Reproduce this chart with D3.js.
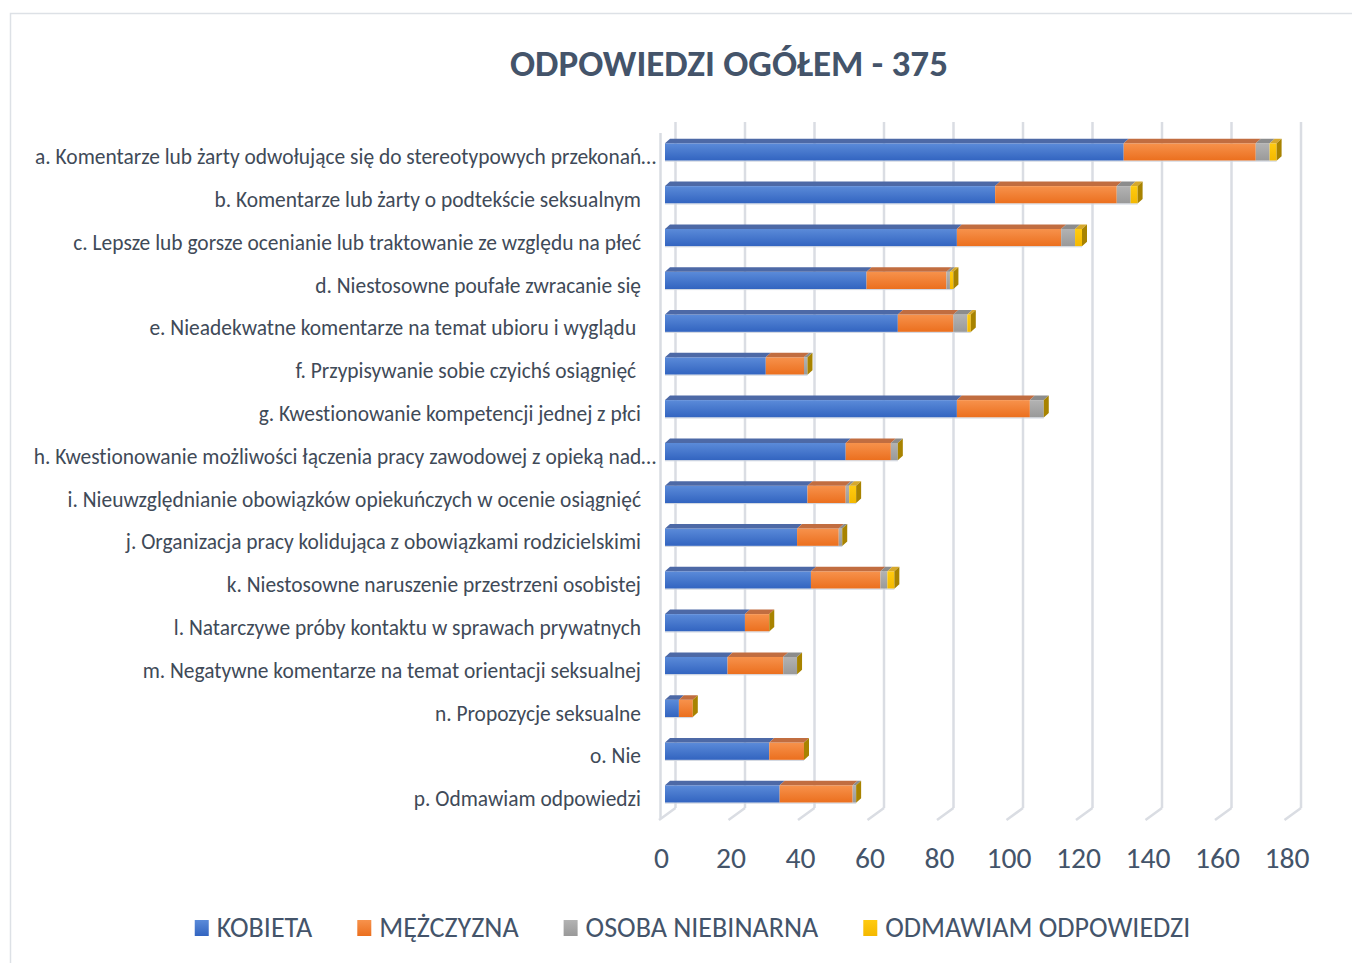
<!DOCTYPE html>
<html>
<head>
<meta charset="utf-8">
<script src="https://cdn.jsdelivr.net/npm/d3@7"></script>
<style>
  body { margin: 0; background: #fff; }
  text { font-family: Carlito, Lato, "Open Sans", sans-serif; white-space: pre; font-variant-ligatures: none; }
</style>
</head>
<body>
<svg width="1352" height="963"></svg>
<script>
const categories = [
    'a. Komentarze lub żarty odwołujące się do stereotypowych przekonań…',
    'b. Komentarze lub żarty o podtekście seksualnym',
    'c. Lepsze lub gorsze ocenianie lub traktowanie ze względu na płeć',
    'd. Niestosowne poufałe zwracanie się',
    'e. Nieadekwatne komentarze na temat ubioru i wyglądu ',
    'f. Przypisywanie sobie czyichś osiągnięć ',
    'g. Kwestionowanie kompetencji jednej z płci',
    'h. Kwestionowanie możliwości łączenia pracy zawodowej z opieką nad…',
    'i. Nieuwzględnianie obowiązków opiekuńczych w ocenie osiągnięć',
    'j. Organizacja pracy kolidująca z obowiązkami rodzicielskimi',
    'k. Niestosowne naruszenie przestrzeni osobistej',
    'l. Natarczywe próby kontaktu w sprawach prywatnych',
    'm. Negatywne komentarze na temat orientacji seksualnej',
    'n. Propozycje seksualne',
    'o. Nie',
    'p. Odmawiam odpowiedzi'
];
const kobieta    = [132, 95, 84, 58, 67, 29, 84, 52, 41, 38, 42, 23, 18, 4, 30, 33];
const mezczyzna  = [38, 35, 30, 23, 16, 11, 21, 13, 11, 12, 20, 7, 16, 4, 10, 21];
const niebinarna = [4, 4, 4, 1, 4, 1, 4, 2, 1, 1, 2, 0, 4, 0, 0, 1];
const odmawiam   = [2, 2, 2, 1, 1, 0, 0, 0, 2, 0, 2, 0, 0, 0, 0, 0];
const seriesNames = ['KOBIETA', 'MĘŻCZYZNA', 'OSOBA NIEBINARNA', 'ODMAWIAM ODPOWIEDZI'];
const xTicks = [0, 20, 40, 60, 80, 100, 120, 140, 160, 180];

const title = 'ODPOWIEDZI OGÓŁEM - 375';

// colours per series: front gradient top/bottom, top face
const colors = [
    { hi: '#5b8bd9', lo: '#3264c0', top: '#4d69a6' },
    { hi: '#f7924c', lo: '#eb6f1e', top: '#c16d40' },
    { hi: '#b3b3b3', lo: '#999999', top: '#8c8c8c' },
    { hi: '#ffcb10', lo: '#f4b800', top: '#d6a82c' }
];
const capColor = '#a88300';

const svg = d3.select('svg');
const defs = svg.append('defs');

colors.forEach((c, i) => {
    const g = defs.append('linearGradient')
        .attr('id', `grad${i}`)
        .attr('x1', 0).attr('y1', 0).attr('x2', 0).attr('y2', 1);
    g.append('stop').attr('offset', '0%').attr('stop-color', c.hi);
    g.append('stop').attr('offset', '100%').attr('stop-color', c.lo);
});

// fit a text to a measured width from the reference
const fit = (sel, target) => {
    const w = sel.node().getComputedTextLength();
    const fs = parseFloat(sel.attr('font-size'));
    return fs * target / w;
};

// chart border
svg.append('rect')
    .attr('x', 10.5).attr('y', 13.5)
    .attr('width', 1400).attr('height', 1000)
    .attr('fill', 'none')
    .attr('stroke', '#dde1e6')
    .attr('stroke-width', 1.5);

// title
const titleText = svg.append('text')
    .attr('x', 729).attr('y', 76)
    .attr('text-anchor', 'middle')
    .attr('font-size', 32)
    .attr('font-weight', 'bold')
    .attr('fill', '#44546a')
    .text(title);
titleText.attr('font-size', fit(titleText, 438));

// 3d geometry
const backX = 675.5, barX = 665, floorX = 659;
const wallTop = 122, floorBack = 808, floorFront = 820;
const dx = 5, dy = -4.5, barH = 17.4;

const x = d3.scaleLinear().domain([0, 180]).range([0, 625.5]);
const y = d3.scalePoint().domain(categories).range([152, 794]);

// grid on back wall + floor
const grid = svg.append('g');
grid.append('line')
    .attr('x1', 660.5).attr('x2', 660.5)
    .attr('y1', 133).attr('y2', 818)
    .attr('stroke', '#d9dce2').attr('stroke-width', 2.5);
xTicks.forEach(t => {
    grid.append('line')
        .attr('x1', backX + x(t)).attr('x2', backX + x(t))
        .attr('y1', wallTop).attr('y2', floorBack)
        .attr('stroke', '#dadde3').attr('stroke-width', 2.5);
    grid.append('line')
        .attr('x1', backX + x(t)).attr('x2', floorX + x(t))
        .attr('y1', floorBack).attr('y2', floorFront)
        .attr('stroke', '#dadde3').attr('stroke-width', 2.5);
});

// stacked bars
const rows = categories.map((c, i) => ({
    cat: c, k0: kobieta[i], k1: mezczyzna[i], k2: niebinarna[i], k3: odmawiam[i]
}));
const stacked = d3.stack().keys(['k0', 'k1', 'k2', 'k3'])(rows);

const bars = svg.append('g');
rows.forEach((r, i) => {
    const top = y(r.cat) - barH / 2;
    const g = bars.append('g');
    stacked.forEach((s, j) => {
        const [v0, v1] = s[i];
        if (v1 - v0 <= 0) return;
        const x0 = barX + x(v0), x1 = barX + x(v1);
        g.append('rect')
            .attr('x', x0).attr('y', top)
            .attr('width', x1 - x0).attr('height', barH)
            .attr('fill', `url(#grad${j})`);
        g.append('path')
            .attr('d', `M${x0},${top} L${x0 + dx},${top + dy} L${x1 + dx},${top + dy} L${x1},${top} Z`)
            .attr('fill', colors[j].top);
    });
    const end = barX + x(stacked[3][i][1]);
    g.append('path')
        .attr('d', `M${end},${top} L${end + dx},${top + dy} L${end + dx},${top + barH + dy} L${end},${top + barH} Z`)
        .attr('fill', capColor);
    // thin light edge at the bottom of the front face
    g.append('line')
        .attr('x1', barX).attr('x2', end)
        .attr('y1', top + barH + 0.5).attr('y2', top + barH + 0.5)
        .attr('stroke', '#cfd5df').attr('stroke-width', 1);
});

// category labels
const labels = svg.append('g')
    .attr('fill', '#404a58')
    .attr('text-anchor', 'end');
const probe = labels.append('text').attr('font-size', 18).text(categories[1]);
const labelSize = fit(probe, 427);
probe.remove();
labels.selectAll('text')
    .data(categories)
    .enter()
    .append('text')
    .attr('x', d => d.endsWith('…') ? 656 : 641)
    .attr('y', d => y(d) + 7)
    .attr('dominant-baseline', 'middle')
    .attr('font-size', labelSize)
    .text(d => d);

// x axis labels on the floor front edge
const xf = d3.scaleLinear().domain([0, 180]).range([floorX + 2, floorX + 2 + 625.5]);
const axis = svg.append('g')
    .attr('transform', 'translate(0,847)')
    .call(d3.axisBottom(xf).tickValues(xTicks).tickSize(0).tickPadding(0));
axis.select('.domain').remove();
const tickProbe = svg.append('text').attr('font-size', 28).text('180');
const tickSize = fit(tickProbe, 45);
tickProbe.remove();
axis.selectAll('text')
    .attr('font-size', tickSize)
    .attr('font-family', 'Carlito, Lato, "Open Sans", sans-serif')
    .attr('fill', '#44546a');

// legend
const legend = svg.append('g');
const legProbe = legend.append('text').attr('font-size', 24).text(seriesNames[3]);
const legSize = fit(legProbe, 305);
legProbe.remove();
const items = seriesNames.map((n, i) => {
    const g = legend.append('g');
    g.append('rect')
        .attr('x', 0).attr('y', 920)
        .attr('width', 14).attr('height', 16)
        .attr('fill', `url(#grad${i})`);
    const t = g.append('text')
        .attr('x', 22).attr('y', 937)
        .attr('font-size', legSize)
        .attr('fill', '#44546a')
        .text(n);
    return { g, w: 22 + t.node().getComputedTextLength() };
});
const gap = 45;
const total = d3.sum(items, d => d.w) + gap * (items.length - 1);
let lx = 692.5 - total / 2;
items.forEach(it => {
    it.g.attr('transform', `translate(${lx},0)`);
    lx += it.w + gap;
});
</script>
</body>
</html>
